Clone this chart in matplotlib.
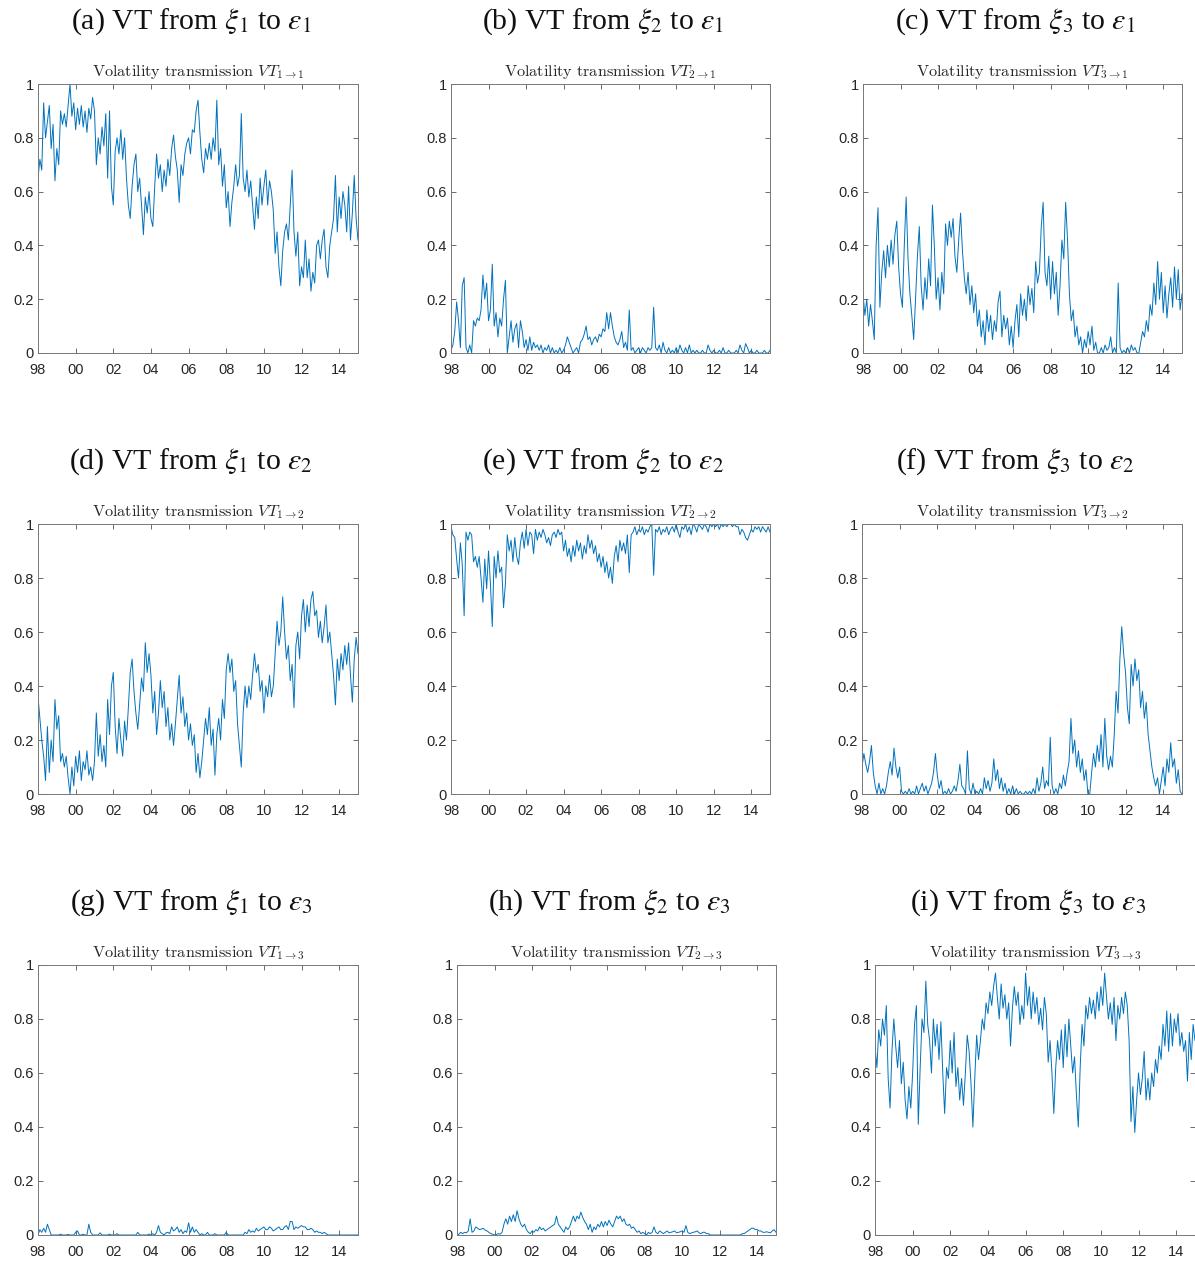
import matplotlib
matplotlib.use('Agg')
import matplotlib.pyplot as plt
import numpy as np

# dates: one reading every 0.1 year, 1998.0 .. 2015.0
years = 1998 + np.arange(171) / 10

vt11 = [0.65, 0.72, 0.68, 0.93, 0.80, 0.86, 0.92, 0.76, 0.85, 0.64,
        0.76, 0.70, 0.90, 0.85, 0.89, 0.84, 0.92, 1.00, 0.88, 0.93,
        0.83, 0.91, 0.85, 0.92, 0.84, 0.90, 0.82, 0.91, 0.87, 0.95,
        0.90, 0.70, 0.80, 0.74, 0.84, 0.77, 0.89, 0.65, 0.90, 0.62,
        0.55, 0.75, 0.80, 0.74, 0.83, 0.72, 0.80, 0.65, 0.55, 0.50,
        0.62, 0.70, 0.74, 0.60, 0.65, 0.55, 0.44, 0.58, 0.52, 0.60,
        0.50, 0.47, 0.62, 0.74, 0.65, 0.70, 0.60, 0.68, 0.62, 0.72,
        0.66, 0.76, 0.81, 0.73, 0.68, 0.56, 0.70, 0.66, 0.74, 0.78,
        0.80, 0.74, 0.83, 0.82, 0.90, 0.94, 0.82, 0.72, 0.67, 0.76,
        0.72, 0.78, 0.72, 0.80, 0.75, 0.94, 0.70, 0.76, 0.62, 0.70,
        0.54, 0.60, 0.47, 0.56, 0.62, 0.70, 0.62, 0.66, 0.89, 0.65,
        0.60, 0.68, 0.58, 0.64, 0.55, 0.46, 0.58, 0.50, 0.65, 0.55,
        0.62, 0.68, 0.55, 0.64, 0.60, 0.53, 0.37, 0.45, 0.32, 0.25,
        0.38, 0.45, 0.48, 0.42, 0.55, 0.68, 0.45, 0.36, 0.45, 0.25,
        0.32, 0.28, 0.42, 0.28, 0.35, 0.23, 0.30, 0.26, 0.40, 0.42,
        0.35, 0.42, 0.46, 0.32, 0.28, 0.40, 0.45, 0.50, 0.66, 0.45,
        0.58, 0.50, 0.60, 0.55, 0.45, 0.62, 0.42, 0.52, 0.66, 0.50,
        0.42]

vt21 = [0.01, 0.03, 0.08, 0.19, 0.12, 0.02, 0.25, 0.28, 0.02, 0.00,
        0.03, 0.00, 0.12, 0.10, 0.13, 0.12, 0.16, 0.29, 0.20, 0.26,
        0.12, 0.16, 0.33, 0.10, 0.15, 0.06, 0.13, 0.10, 0.20, 0.27,
        0.00, 0.06, 0.12, 0.04, 0.09, 0.11, 0.02, 0.12, 0.08, 0.02,
        0.05, 0.01, 0.06, 0.01, 0.04, 0.02, 0.03, 0.01, 0.03, 0.00,
        0.02, 0.01, 0.03, 0.00, 0.02, 0.00, 0.01, 0.00, 0.02, 0.00,
        0.01, 0.03, 0.06, 0.04, 0.02, 0.00, 0.01, 0.02, 0.00, 0.04,
        0.05, 0.07, 0.10, 0.05, 0.06, 0.03, 0.05, 0.06, 0.04, 0.07,
        0.06, 0.09, 0.08, 0.15, 0.09, 0.15, 0.10, 0.06, 0.04, 0.03,
        0.05, 0.08, 0.02, 0.04, 0.01, 0.16, 0.01, 0.02, 0.00, 0.01,
        0.02, 0.00, 0.02, 0.01, 0.00, 0.02, 0.01, 0.02, 0.17, 0.02,
        0.01, 0.03, 0.00, 0.04, 0.01, 0.00, 0.02, 0.00, 0.01, 0.00,
        0.02, 0.00, 0.03, 0.01, 0.00, 0.02, 0.00, 0.03, 0.00, 0.01,
        0.00, 0.01, 0.00, 0.00, 0.01, 0.00, 0.00, 0.03, 0.01, 0.00,
        0.01, 0.00, 0.00, 0.01, 0.00, 0.02, 0.00, 0.00, 0.01, 0.00,
        0.00, 0.00, 0.01, 0.00, 0.03, 0.01, 0.00, 0.035, 0.02, 0.00,
        0.01, 0.00, 0.00, 0.01, 0.00, 0.00, 0.00, 0.01, 0.00, 0.00,
        0.01]

vt31 = [0.22, 0.14, 0.20, 0.10, 0.18, 0.12, 0.05, 0.40, 0.54, 0.17,
        0.30, 0.38, 0.28, 0.40, 0.32, 0.42, 0.33, 0.44, 0.49, 0.32,
        0.22, 0.17, 0.40, 0.58, 0.35, 0.22, 0.14, 0.05, 0.20, 0.36,
        0.47, 0.25, 0.16, 0.28, 0.20, 0.35, 0.25, 0.55, 0.40, 0.20,
        0.28, 0.16, 0.30, 0.22, 0.48, 0.40, 0.49, 0.43, 0.50, 0.36,
        0.30, 0.42, 0.52, 0.38, 0.28, 0.22, 0.30, 0.18, 0.25, 0.15,
        0.22, 0.10, 0.16, 0.06, 0.12, 0.03, 0.16, 0.08, 0.14, 0.05,
        0.12, 0.08, 0.19, 0.23, 0.06, 0.14, 0.09, 0.13, 0.03, 0.10,
        0.02, 0.12, 0.18, 0.06, 0.22, 0.14, 0.20, 0.12, 0.25, 0.18,
        0.24, 0.15, 0.34, 0.26, 0.30, 0.47, 0.56, 0.30, 0.25, 0.36,
        0.20, 0.34, 0.22, 0.30, 0.14, 0.25, 0.42, 0.35, 0.56, 0.42,
        0.22, 0.12, 0.16, 0.06, 0.10, 0.03, 0.06, 0.00, 0.05, 0.02,
        0.08, 0.03, 0.10, 0.01, 0.04, 0.00, 0.00, 0.02, 0.00, 0.03,
        0.01, 0.02, 0.06, 0.00, 0.02, 0.00, 0.26, 0.02, 0.00, 0.01,
        0.00, 0.02, 0.00, 0.03, 0.01, 0.02, 0.00, 0.00, 0.04, 0.08,
        0.06, 0.12, 0.08, 0.18, 0.14, 0.26, 0.18, 0.34, 0.20, 0.30,
        0.15, 0.25, 0.13, 0.22, 0.28, 0.17, 0.32, 0.20, 0.31, 0.16,
        0.22]

vt12 = [0.36, 0.28, 0.20, 0.14, 0.05, 0.25, 0.08, 0.20, 0.12, 0.35,
        0.24, 0.29, 0.12, 0.15, 0.10, 0.14, 0.06, 0.00, 0.10, 0.03,
        0.14, 0.08, 0.16, 0.05, 0.12, 0.09, 0.16, 0.07, 0.10, 0.05,
        0.12, 0.30, 0.14, 0.22, 0.12, 0.18, 0.10, 0.35, 0.22, 0.40,
        0.45, 0.25, 0.15, 0.28, 0.20, 0.14, 0.27, 0.20, 0.32, 0.45,
        0.50, 0.38, 0.30, 0.24, 0.33, 0.43, 0.38, 0.56, 0.45, 0.52,
        0.44, 0.30, 0.38, 0.22, 0.30, 0.42, 0.32, 0.38, 0.25, 0.32,
        0.20, 0.26, 0.18, 0.26, 0.35, 0.44, 0.30, 0.36, 0.25, 0.30,
        0.20, 0.26, 0.18, 0.22, 0.08, 0.15, 0.06, 0.12, 0.20, 0.28,
        0.22, 0.32, 0.18, 0.24, 0.07, 0.22, 0.28, 0.20, 0.35, 0.28,
        0.46, 0.52, 0.45, 0.50, 0.38, 0.42, 0.26, 0.18, 0.10, 0.30,
        0.40, 0.32, 0.40, 0.35, 0.44, 0.52, 0.45, 0.48, 0.38, 0.42,
        0.30, 0.40, 0.36, 0.44, 0.36, 0.40, 0.52, 0.64, 0.55, 0.60,
        0.73, 0.60, 0.50, 0.55, 0.42, 0.48, 0.32, 0.55, 0.60, 0.50,
        0.66, 0.72, 0.60, 0.70, 0.62, 0.72, 0.75, 0.66, 0.68, 0.58,
        0.64, 0.56, 0.62, 0.70, 0.56, 0.60, 0.52, 0.44, 0.33, 0.50,
        0.42, 0.52, 0.46, 0.55, 0.48, 0.56, 0.44, 0.34, 0.50, 0.58,
        0.52]

vt22 = [0.99, 0.96, 0.95, 0.87, 0.80, 0.93, 0.85, 0.66, 0.97, 0.94,
        0.97, 0.96, 0.86, 0.88, 0.84, 0.88, 0.80, 0.71, 0.87, 0.76,
        0.90, 0.78, 0.62, 0.88, 0.80, 0.90, 0.82, 0.84, 0.69, 0.78,
        0.96, 0.90, 0.94, 0.86, 0.95, 0.88, 0.85, 0.93, 0.97, 0.91,
        0.98, 0.92, 0.97, 0.96, 0.89, 0.98, 0.94, 0.97, 0.95, 0.98,
        0.96, 0.93, 0.95, 0.92, 0.96, 0.97, 0.95, 0.98, 0.96, 0.97,
        0.90, 0.94, 0.88, 0.91, 0.86, 0.92, 0.88, 0.94, 0.90, 0.93,
        0.87, 0.92, 0.89, 0.96, 0.91, 0.94, 0.89, 0.92, 0.86, 0.89,
        0.84, 0.88, 0.82, 0.86, 0.80, 0.84, 0.78, 0.88, 0.92, 0.86,
        0.94, 0.90, 0.93, 0.89, 0.96, 0.82, 0.96, 0.97, 0.99, 0.96,
        0.98, 0.97, 0.99, 0.96, 0.98, 0.97, 0.99, 1.00, 0.81, 0.98,
        0.97, 0.99, 0.96, 0.98, 0.97, 0.99, 0.96, 0.98, 0.99, 0.97,
        1.00, 0.97, 0.95, 0.99, 0.98, 1.00, 0.97, 0.99, 0.96, 1.00,
        0.99, 0.97, 1.00, 0.99, 0.98, 1.00, 0.99, 0.97, 1.00, 0.99,
        1.00, 0.99, 1.00, 0.98, 1.00, 0.99, 1.00, 0.99, 1.00, 1.00,
        0.99, 1.00, 0.99, 0.99, 0.96, 0.98, 0.97, 0.95, 0.94, 0.96,
        0.98, 0.97, 0.99, 0.98, 0.99, 0.97, 0.99, 0.98, 0.97, 0.99,
        0.97]

vt32 = [0.10, 0.15, 0.11, 0.08, 0.12, 0.18, 0.08, 0.03, 0.00, 0.04,
        0.00, 0.02, 0.00, 0.03, 0.08, 0.12, 0.07, 0.17, 0.10, 0.06,
        0.10, 0.01, 0.00, 0.01, 0.00, 0.02, 0.00, 0.01, 0.00, 0.03,
        0.00, 0.02, 0.04, 0.01, 0.03, 0.00, 0.02, 0.04, 0.08, 0.15,
        0.07, 0.02, 0.05, 0.00, 0.01, 0.00, 0.02, 0.00, 0.01, 0.03,
        0.01, 0.05, 0.11, 0.03, 0.02, 0.00, 0.16, 0.02, 0.00, 0.04,
        0.00, 0.01, 0.00, 0.02, 0.00, 0.06, 0.02, 0.05, 0.01, 0.04,
        0.13, 0.05, 0.09, 0.02, 0.06, 0.01, 0.04, 0.00, 0.02, 0.00,
        0.03, 0.00, 0.02, 0.00, 0.01, 0.00, 0.00, 0.01, 0.00, 0.01,
        0.00, 0.02, 0.00, 0.06, 0.01, 0.04, 0.10, 0.02, 0.05, 0.03,
        0.21, 0.03, 0.00, 0.02, 0.00, 0.04, 0.02, 0.07, 0.03, 0.08,
        0.12, 0.28, 0.15, 0.20, 0.10, 0.16, 0.08, 0.13, 0.05, 0.09,
        0.00, 0.00, 0.08, 0.15, 0.10, 0.18, 0.12, 0.22, 0.10, 0.28,
        0.14, 0.09, 0.14, 0.10, 0.22, 0.38, 0.30, 0.50, 0.62, 0.52,
        0.45, 0.32, 0.26, 0.48, 0.40, 0.50, 0.42, 0.46, 0.32, 0.38,
        0.28, 0.34, 0.22, 0.16, 0.10, 0.06, 0.03, 0.06, 0.00, 0.05,
        0.10, 0.03, 0.13, 0.08, 0.19, 0.10, 0.13, 0.04, 0.09, 0.01,
        0.00]

vt13 = [0.000, 0.020, 0.010, 0.025, 0.010, 0.040, 0.020, 0.000, 0.000, 0.000,
        0.000, 0.000, 0.003, 0.000, 0.000, 0.000, 0.002, 0.000, 0.000, 0.000,
        0.010, 0.015, 0.000, 0.000, 0.003, 0.000, 0.000, 0.040, 0.010, 0.000,
        0.000, 0.000, 0.000, 0.008, 0.000, 0.000, 0.000, 0.000, 0.003, 0.000,
        0.000, 0.000, 0.005, 0.000, 0.000, 0.000, 0.000, 0.000, 0.000, 0.000,
        0.000, 0.000, 0.000, 0.010, 0.000, 0.000, 0.000, 0.000, 0.000, 0.003,
        0.000, 0.005, 0.000, 0.010, 0.035, 0.010, 0.005, 0.000, 0.008, 0.010,
        0.005, 0.030, 0.015, 0.020, 0.030, 0.010, 0.020, 0.005, 0.015, 0.010,
        0.045, 0.010, 0.030, 0.010, 0.020, 0.010, 0.000, 0.005, 0.000, 0.000,
        0.010, 0.000, 0.000, 0.000, 0.005, 0.000, 0.000, 0.000, 0.000, 0.000,
        0.010, 0.000, 0.000, 0.000, 0.000, 0.000, 0.000, 0.000, 0.000, 0.000,
        0.010, 0.005, 0.020, 0.010, 0.015, 0.010, 0.025, 0.015, 0.020, 0.025,
        0.030, 0.020, 0.020, 0.030, 0.025, 0.015, 0.020, 0.025, 0.030, 0.020,
        0.020, 0.030, 0.035, 0.020, 0.050, 0.050, 0.020, 0.030, 0.025, 0.030,
        0.035, 0.030, 0.030, 0.020, 0.020, 0.025, 0.020, 0.010, 0.015, 0.010,
        0.010, 0.005, 0.010, 0.005, 0.000, 0.000, 0.000, 0.000, 0.000, 0.000,
        0.000, 0.000, 0.000, 0.000, 0.000, 0.000, 0.000, 0.000, 0.000, 0.000,
        0.000]

vt23 = [0.000, 0.003, 0.010, 0.005, 0.010, 0.008, 0.015, 0.060, 0.010, 0.015,
        0.030, 0.025, 0.020, 0.022, 0.025, 0.018, 0.015, 0.010, 0.005, 0.003,
        0.000, 0.002, 0.005, 0.003, 0.010, 0.040, 0.060, 0.040, 0.070, 0.050,
        0.075, 0.050, 0.090, 0.060, 0.040, 0.030, 0.040, 0.020, 0.010, 0.005,
        0.015, 0.010, 0.020, 0.015, 0.030, 0.020, 0.025, 0.015, 0.020, 0.025,
        0.030, 0.035, 0.040, 0.070, 0.040, 0.030, 0.020, 0.010, 0.030, 0.020,
        0.030, 0.050, 0.070, 0.050, 0.070, 0.060, 0.085, 0.065, 0.050, 0.040,
        0.020, 0.040, 0.010, 0.030, 0.020, 0.040, 0.030, 0.050, 0.030, 0.050,
        0.035, 0.055, 0.040, 0.030, 0.050, 0.070, 0.060, 0.070, 0.050, 0.060,
        0.040, 0.035, 0.040, 0.025, 0.030, 0.020, 0.010, 0.015, 0.005, 0.010,
        0.005, 0.000, 0.010, 0.005, 0.010, 0.030, 0.010, 0.005, 0.015, 0.010,
        0.005, 0.010, 0.015, 0.008, 0.010, 0.012, 0.015, 0.008, 0.010, 0.012,
        0.015, 0.010, 0.035, 0.010, 0.005, 0.008, 0.010, 0.012, 0.015, 0.008,
        0.005, 0.010, 0.010, 0.005, 0.005, 0.000, 0.000, 0.000, 0.000, 0.000,
        0.000, 0.000, 0.000, 0.000, 0.000, 0.000, 0.000, 0.000, 0.000, 0.000,
        0.000, 0.000, 0.005, 0.005, 0.010, 0.015, 0.020, 0.025, 0.025, 0.020,
        0.020, 0.015, 0.015, 0.010, 0.010, 0.012, 0.010, 0.008, 0.015, 0.020,
        0.010]

vt33 = [0.70, 0.62, 0.76, 0.70, 0.80, 0.74, 0.85, 0.58, 0.47, 0.68,
        0.80, 0.70, 0.62, 0.72, 0.56, 0.64, 0.50, 0.43, 0.55, 0.47,
        0.60, 0.78, 0.85, 0.41, 0.62, 0.80, 0.75, 0.94, 0.78, 0.72,
        0.60, 0.80, 0.70, 0.78, 0.65, 0.79, 0.60, 0.45, 0.62, 0.58,
        0.72, 0.60, 0.75, 0.55, 0.62, 0.50, 0.58, 0.48, 0.60, 0.74,
        0.68, 0.56, 0.40, 0.58, 0.74, 0.65, 0.72, 0.80, 0.76, 0.86,
        0.82, 0.90, 0.85, 0.92, 0.97, 0.88, 0.80, 0.93, 0.84, 0.89,
        0.80, 0.86, 0.70, 0.84, 0.92, 0.85, 0.90, 0.78, 0.85, 0.80,
        0.97, 0.85, 0.92, 0.80, 0.90, 0.82, 0.88, 0.78, 0.84, 0.76,
        0.88, 0.82, 0.64, 0.72, 0.60, 0.45, 0.62, 0.72, 0.65, 0.76,
        0.62, 0.78, 0.66, 0.80, 0.70, 0.60, 0.66, 0.52, 0.40, 0.62,
        0.78, 0.70, 0.85, 0.80, 0.88, 0.82, 0.87, 0.80, 0.90, 0.83,
        0.92, 0.85, 0.97, 0.88, 0.80, 0.86, 0.78, 0.88, 0.72, 0.85,
        0.80, 0.88, 0.82, 0.90, 0.85, 0.72, 0.42, 0.55, 0.38, 0.50,
        0.60, 0.52, 0.58, 0.68, 0.50, 0.58, 0.50, 0.60, 0.55, 0.65,
        0.60, 0.70, 0.65, 0.78, 0.70, 0.83, 0.68, 0.82, 0.70, 0.80,
        0.75, 0.82, 0.70, 0.75, 0.68, 0.72, 0.57, 0.75, 0.65, 0.78,
        0.72]

# panel grid: rows = receiving shock (eps), columns = source shock (xi)
series = [[vt11, vt21, vt31],
          [vt12, vt22, vt32],
          [vt13, vt23, vt33]]
letters = ['a', 'b', 'c', 'd', 'e', 'f', 'g', 'h', 'i']
xtick_pos = [1998, 2000, 2002, 2004, 2006, 2008, 2010, 2012, 2014]
xtick_lab = ['98', '00', '02', '04', '06', '08', '10', '12', '14']
ytick_pos = [0, 0.2, 0.4, 0.6, 0.8, 1]
ytick_lab = ['0', '0.2', '0.4', '0.6', '0.8', '1']

W, H = 1195, 1262
# axes boxes in pixels: (left, right, top, bottom)
boxes = [[(38, 358, 84, 353), (451, 770, 84, 353), (863, 1182, 84, 353)],
         [(38, 358, 524, 794), (451, 770, 524, 794), (862, 1182, 524, 794)],
         [(38, 358, 965, 1235), (457, 776, 965, 1235), (875, 1195, 965, 1235)]]

fig = plt.figure(figsize=(W / 100, H / 100), dpi=100)

for r in range(3):
    for c in range(3):
        l, rr, t, b = boxes[r][c]
        ax = fig.add_axes([l / W, 1 - b / H, (rr - l) / W, (b - t) / H])
        ax.plot(years, series[r][c], color='#0072BD', lw=0.7)
        ax.set_xlim(1998, 2015)
        ax.set_ylim(0, 1)
        ax.set_xticks(xtick_pos)
        ax.set_xticklabels(xtick_lab)
        ax.set_yticks(ytick_pos)
        ax.set_yticklabels(ytick_lab)
        ax.tick_params(direction='in', length=3.5, width=0.6, top=True, right=True,
                       labelsize=10.5, colors='#262626', color='#555555')
        ax.tick_params(axis='x', pad=7.5)
        ax.tick_params(axis='y', pad=3)
        for lab in ax.get_xticklabels() + ax.get_yticklabels():
            lab.set_fontfamily('Liberation Sans')
        for sp in ax.spines.values():
            sp.set_color('#777777')
            sp.set_linewidth(0.7)
        ax.set_title(r'$\mathrm{Volatility\ transmission}\ VT_{%d\rightarrow %d}$' % (c + 1, r + 1),
                     fontsize=11.7, pad=6, color='#262626', math_fontfamily='cm')
        caption = r'(%s) VT from $\xi_%d$ to $\varepsilon_%d$' % (letters[3 * r + c], c + 1, r + 1)
        fig.text(((l + rr) / 2 - 7) / W, 1 - (t - 62) / H, caption, ha='center', va='center',
                 fontsize=21.5, fontfamily='Liberation Serif', math_fontfamily='stix', color='#111111')

fig.savefig('out.png', dpi=100)
